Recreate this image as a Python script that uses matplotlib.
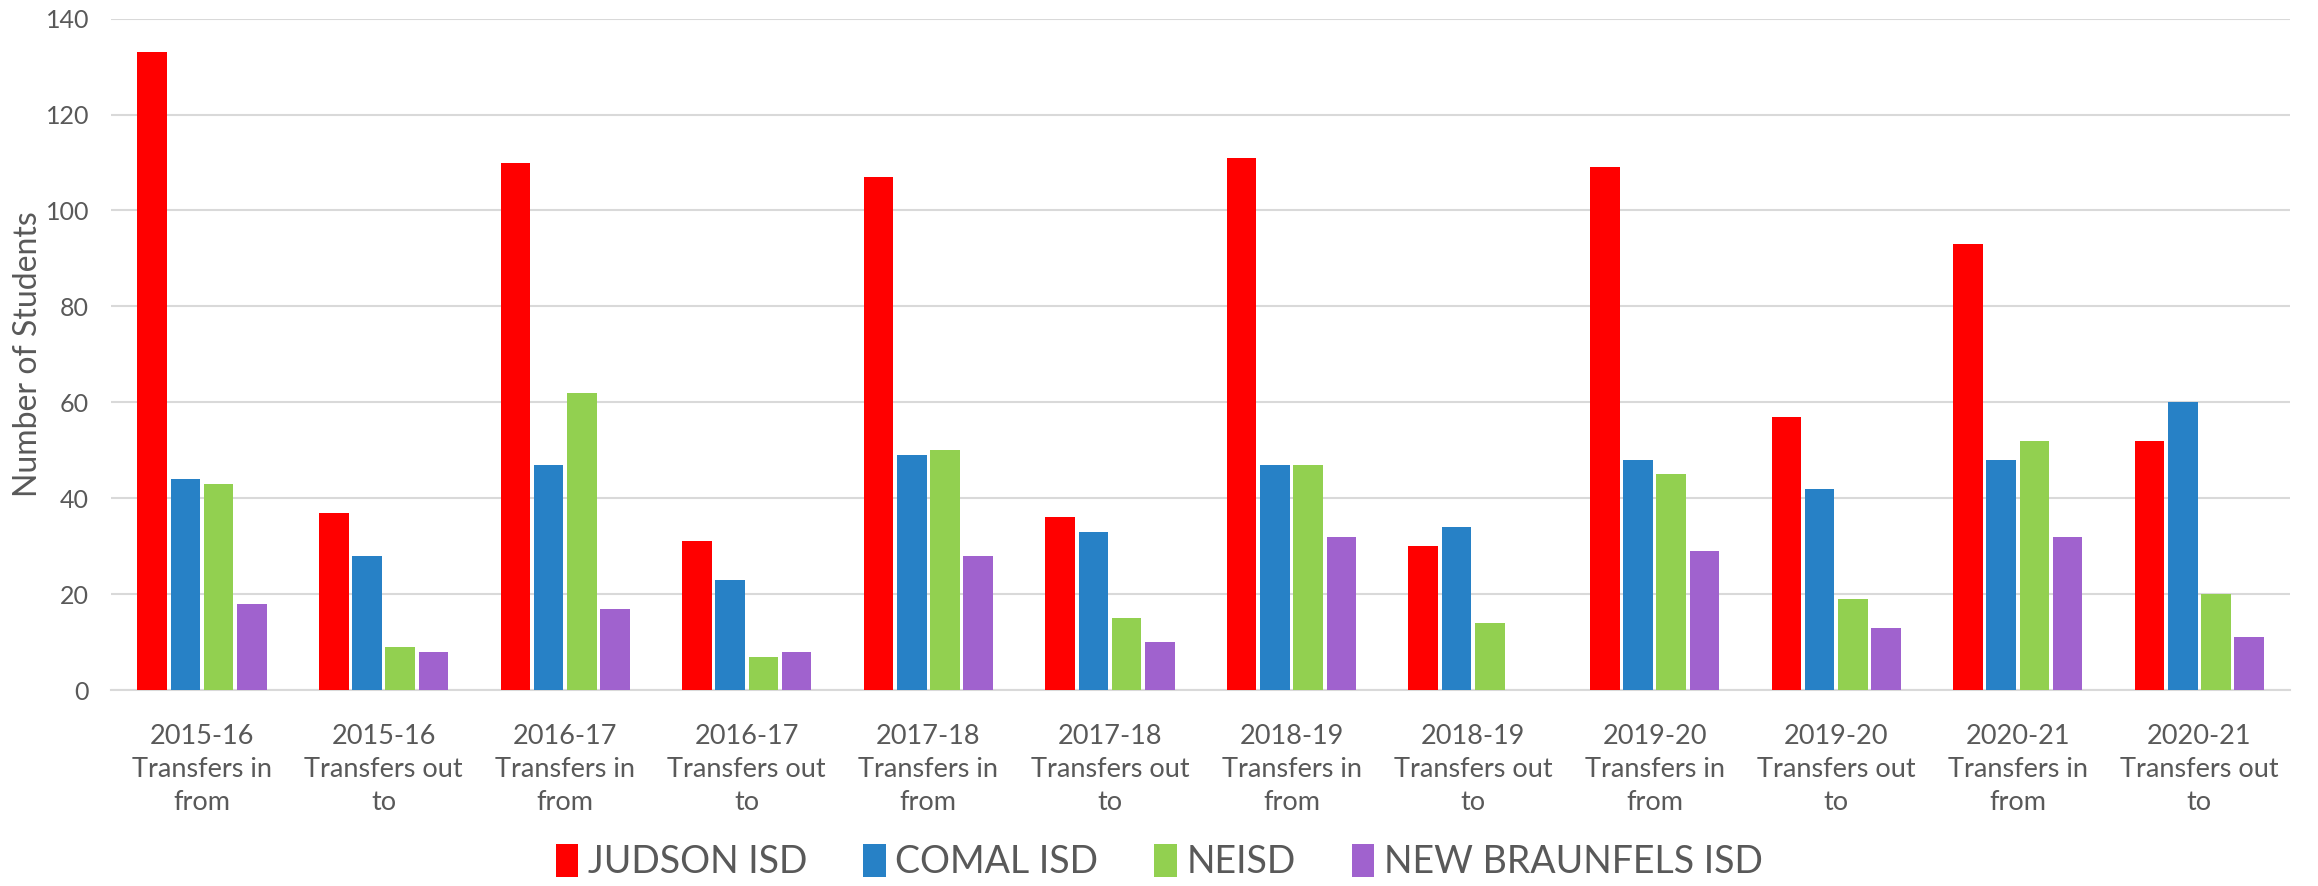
import numpy as np
import matplotlib.pyplot as plt

# === Data ===
categories = [
    "2015-16\nTransfers in\nfrom", "2015-16\nTransfers out\nto",
    "2016-17\nTransfers in\nfrom", "2016-17\nTransfers out\nto",
    "2017-18\nTransfers in\nfrom", "2017-18\nTransfers out\nto",
    "2018-19\nTransfers in\nfrom", "2018-19\nTransfers out\nto",
    "2019-20\nTransfers in\nfrom", "2019-20\nTransfers out\nto",
    "2020-21\nTransfers in\nfrom", "2020-21\nTransfers out\nto",
]
judson = [133, 37, 110, 31, 107, 36, 111, 30, 109, 57, 93, 52]
comal = [44, 28, 47, 23, 49, 33, 47, 34, 48, 42, 48, 60]
neisd = [43, 9, 62, 7, 50, 15, 47, 14, 45, 19, 52, 20]
new_braunfels = [18, 8, 17, 8, 28, 10, 32, 0, 29, 13, 32, 11]

series = [judson, comal, neisd, new_braunfels]
names = ["JUDSON ISD", "COMAL ISD", "NEISD", "NEW BRAUNFELS ISD"]
colors = ["#FF0000", "#2781C6", "#92D050", "#A062CE"]

plt.rcParams['font.family'] = ['Lato', 'DejaVu Sans']
text_color = '#595959'

fig = plt.figure(figsize=(23.18, 8.86), dpi=100)
ax = fig.add_axes([0.048, 0.221, 0.940, 0.758])

x = np.arange(len(categories))
width = 0.163
step = 0.183
for i, (vals, name, col) in enumerate(zip(series, names, colors)):
    ax.bar(x + (i - 1.5) * step, vals, width, color=col, label=name, zorder=3)

ax.set_xlim(-0.5, len(categories) - 0.5)
ax.set_ylim(0, 140)
ax.set_yticks(np.arange(0, 141, 20))
ax.set_xticks(x)
ax.set_xticklabels(categories, fontsize=19.5, color=text_color, linespacing=1.42)
ax.tick_params(axis='y', labelsize=18, colors=text_color, length=0, pad=16)
ax.tick_params(axis='x', length=0, pad=24)
ax.grid(axis='y', color='#D9D9D9', linewidth=1.5, zorder=0)
for s in ['top', 'right', 'left']:
    ax.spines[s].set_visible(False)
ax.spines['bottom'].set_color('#D9D9D9')
ax.spines['bottom'].set_linewidth(1.5)
ax.set_ylabel('Number of Students', fontsize=23, color=text_color, labelpad=2)

leg = fig.legend(loc='center', bbox_to_anchor=(0.5, 0.027), ncol=4, frameon=False,
                 fontsize=27, handlelength=0.6, handleheight=1.0, handletextpad=0.25,
                 columnspacing=1.5)
for t in leg.get_texts():
    t.set_color(text_color)

fig.savefig('out.png', dpi=100)
